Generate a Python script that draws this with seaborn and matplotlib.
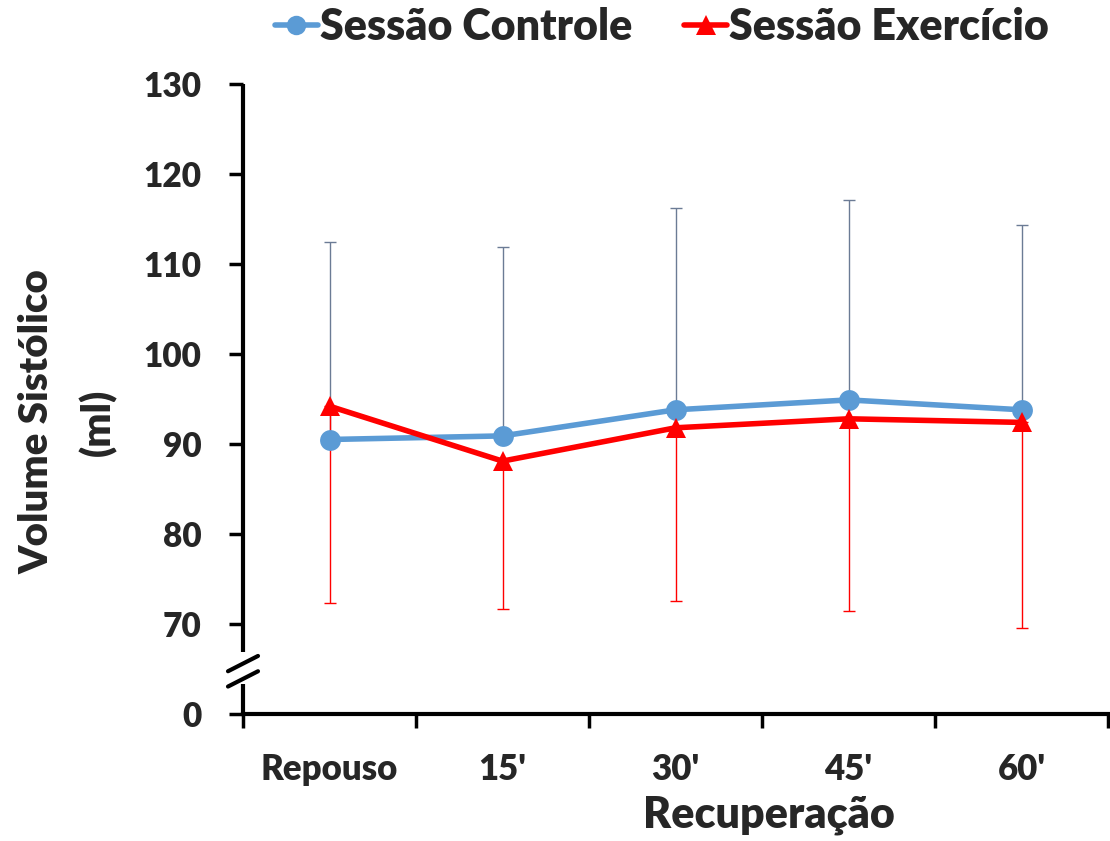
import matplotlib
matplotlib.use("Agg")
import matplotlib.pyplot as plt
import seaborn as sns
import numpy as np
import pandas as pd

# Data: stroke volume during recovery
categories = ["Repouso", "15'", "30'", "45'", "60'"]
controle_mean = [90.5, 90.9, 93.8, 94.9, 93.8]
controle_upper = [112.4, 111.9, 116.2, 117.1, 114.3]
exercicio_mean = [94.2, 88.1, 91.8, 92.8, 92.4]
exercicio_lower = [72.3, 71.7, 72.6, 71.4, 69.6]
y_ticks = [60, 70, 80, 90, 100, 110, 120, 130]
y_tick_labels = ["0", "70", "80", "90", "100", "110", "120", "130"]

sns.set_theme(style="white")
plt.rcParams["font.family"] = ["Lato", "DejaVu Sans"]
plt.rcParams["font.weight"] = "heavy"

blue = "#5B9BD5"
red = "#FF0000"
W = "heavy"

pos = np.arange(len(categories)) + 0.5
df = pd.DataFrame({
    "pos": np.concatenate([pos, pos]),
    "valor": controle_mean + exercicio_mean,
    "sessao": ["Sessão Controle"] * 5 + ["Sessão Exercício"] * 5,
})

fig = plt.figure(figsize=(11.1, 8.41), dpi=100)
ax = fig.add_axes([243 / 1110, 1 - 714 / 841, 865 / 1110, 630 / 841])

# one-sided error bars
ax.errorbar(pos, controle_mean,
            yerr=[np.zeros(5), np.array(controle_upper) - np.array(controle_mean)],
            fmt="none", ecolor="#6B7B95", elinewidth=1.0, capsize=4, capthick=1.0, zorder=1)
ax.errorbar(pos, exercicio_mean,
            yerr=[np.array(exercicio_mean) - np.array(exercicio_lower), np.zeros(5)],
            fmt="none", ecolor=red, elinewidth=1.0, capsize=4, capthick=1.0, zorder=1)

sns.lineplot(data=df, x="pos", y="valor", hue="sessao", style="sessao",
             markers={"Sessão Controle": "o", "Sessão Exercício": "^"},
             dashes=False, palette={"Sessão Controle": blue, "Sessão Exercício": red},
             linewidth=4, markersize=15, markeredgewidth=0, ax=ax, zorder=3, legend=False)

ax.set_xlim(0, 5)
ax.set_ylim(60, 130)
ax.set_yticks(y_ticks)
ax.set_yticklabels(y_tick_labels, fontsize=24, fontweight=W)
ax.set_xticks(np.arange(6))
ax.set_xticklabels([])
ax.set_xticks(pos, minor=True)
ax.set_xticklabels(categories, minor=True, fontsize=25, fontweight=W)
ax.tick_params(axis="x", which="major", direction="out", length=10, width=2.5, color="black", bottom=True)
ax.tick_params(axis="x", which="minor", length=0, pad=28)
ax.tick_params(axis="y", direction="out", length=10, width=2.5, color="black", left=True, pad=20)

for s in ["top", "right", "left"]:
    ax.spines[s].set_visible(False)
ax.spines["bottom"].set_color("black")
ax.spines["bottom"].set_linewidth(3)
ax.spines["bottom"].set_bounds(0, 5)

# left axis drawn in two pieces with a break
trans = ax.get_yaxis_transform()
ax.plot([0, 0], [66.9, 130], color="black", lw=3, transform=trans, clip_on=False, solid_capstyle="butt")
ax.plot([0, 0], [60, 63.3], color="black", lw=3, transform=trans, clip_on=False, solid_capstyle="butt")
dx = 15 / 865
for yc in [65.6, 63.9]:
    ax.plot([-dx, dx], [yc - 0.85, yc + 0.85], color="black", lw=3, transform=trans, clip_on=False)

ax.set_xlabel("Recuperação", fontsize=31, fontweight=W)
ax.xaxis.set_label_coords((769 - 243) / 865, -(815 - 714) / 630, transform=ax.transAxes)
ax.xaxis.label.set_va("center")
ax.set_ylabel("Volume Sistólico\n(ml)", fontsize=29, fontweight=W, linespacing=1.75)
ax.yaxis.set_label_coords(-(243 - 68) / 865, (714 - 422) / 630, transform=ax.transAxes)
ax.yaxis.label.set_va("center")

handles = [
    plt.Line2D([], [], color=blue, lw=4, marker="o", markersize=14, markeredgewidth=0),
    plt.Line2D([], [], color=red, lw=4, marker="^", markersize=14, markeredgewidth=0),
]
fig.legend(handles, ["Sessão Controle", "Sessão Exercício"], loc="center",
           bbox_to_anchor=(662 / 1110, 1 - 27 / 841), ncol=2, frameon=False,
           prop={"size": 31, "weight": W}, handlelength=1.0, handletextpad=0.05,
           columnspacing=1.2)

fig.savefig("out.png", dpi=100)
